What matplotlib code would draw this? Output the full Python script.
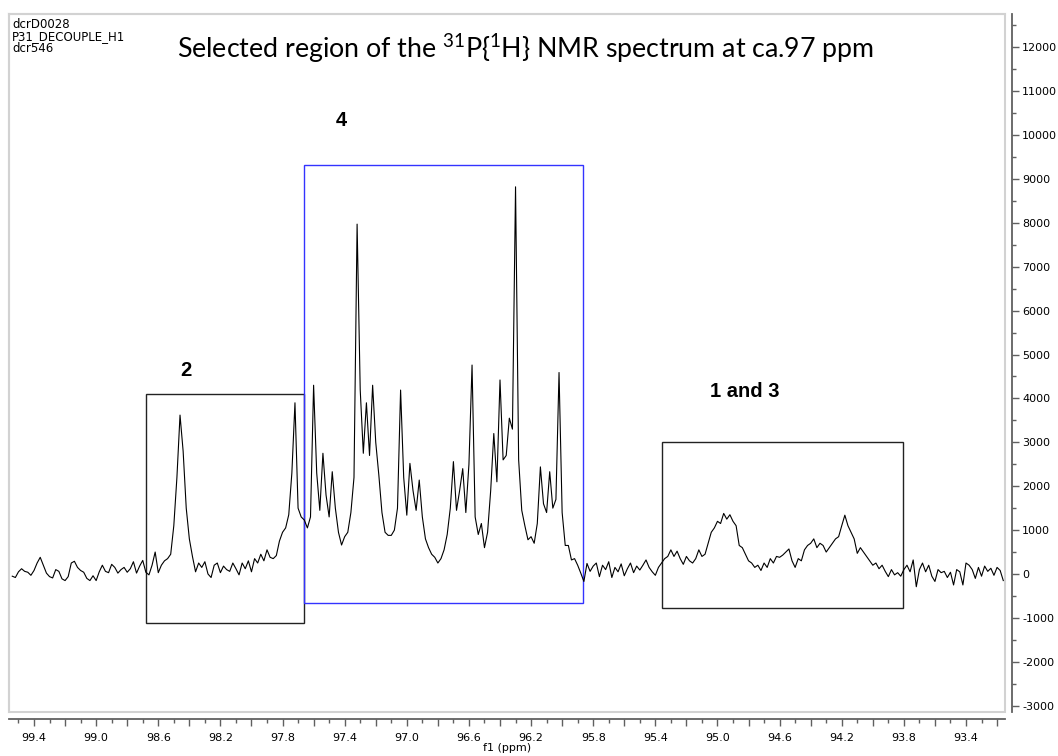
import matplotlib
matplotlib.use('Agg')
import matplotlib.pyplot as plt
from matplotlib.patches import Rectangle
from matplotlib.ticker import MultipleLocator, FuncFormatter
import numpy as np

# 31P{1H} trace on a 0.02 ppm grid (99.54 -> 93.16)
ppm_start, ppm_end = 99.54, 93.16
intensity = [
    -50, -80, 50, 120, 60, 40, -30, 80, 250, 380,
    200, 20, -60, -90, 100, 60, -110, -150, -60, 250,
    290, 150, 80, 40, -100, -150, -40, -150, 50, 200,
    60, 30, 220, 150, 20, 100, 150, 40, 120, 280,
    20, 180, 310, 40, -20, 200, 500, 30, 200, 300,
    350, 450, 1100, 2200, 3620, 2800, 1500, 800, 400, 50,
    250, 150, 280, 0, -80, 200, 250, 30, 180, 100,
    60, 250, 120, -20, 250, 120, 300, 50, 350, 250,
    450, 300, 550, 380, 350, 420, 750, 950, 1050, 1350,
    2300, 3900, 1500, 1300, 1230, 1050, 1300, 4300, 2300, 1450,
    2750, 1800, 1300, 2330, 1500, 950, 660, 850, 950, 1400,
    2200, 7970, 4200, 2750, 3900, 2700, 4300, 3000, 2250, 1400,
    950, 880, 880, 1000, 1500, 4190, 2200, 1340, 2520, 1900,
    1450, 2140, 1300, 800, 600, 450, 380, 250, 350, 550,
    900, 1500, 2560, 1450, 1900, 2400, 1400, 2500, 4760, 1300,
    900, 1150, 600, 950, 1900, 3200, 2100, 4420, 2600, 2700,
    3550, 3300, 8820, 2600, 1450, 1100, 780, 850, 700, 1150,
    2440, 1600, 1400, 2330, 1500, 1700, 4590, 1400, 650, 650,
    320, 350, 200, 20, -170, 240, 60, 180, 250, -60,
    200, 100, 280, -80, 150, 50, 230, -40, 120, 250,
    30, 180, 90, 200, 320, 150, 50, -30, 150, 250,
    350, 400, 550, 400, 520, 350, 220, 400, 300, 250,
    350, 550, 400, 450, 700, 950, 1050, 1200, 1150, 1380,
    1250, 1350, 1200, 1100, 650, 600, 450, 300, 250, 150,
    200, 80, 250, 150, 350, 250, 400, 380, 430, 500,
    570, 300, 150, 350, 300, 550, 650, 700, 800, 600,
    700, 650, 500, 600, 700, 800, 850, 1100, 1340, 1100,
    950, 800, 470, 600, 500, 400, 300, 200, 250, 120,
    200, 60, -60, 100, -20, 30, -50, 100, 200, 50,
    320, -290, 100, 250, 50, 200, -50, -170, 100, 30,
    60, -80, 40, -250, 100, 50, -250, 250, 200, 100,
    -100, 150, -50, 180, 60, 130, -30, 150, 80, -150,
]
ppm = np.linspace(ppm_start, ppm_end, len(intensity))

# boxes round the signal groups and their labels
box_labels = ['2', '4', '1 and 3']
box_ppm_left = [98.681, 97.660, 95.355]
box_ppm_right = [97.662, 95.866, 93.803]
box_top = [4094, 9317, 3014]
box_bottom = [-1109, -667, -781]
box_colors = ['#222222', '#3333ff', '#222222']
label_ppm = [98.421, 97.419, 94.823]
label_y = [4647, 10326, 4146]

header_lines = ['dcrD0028', 'P31_DECOUPLE_H1', 'dcr546']

plt.rcParams['mathtext.fontset'] = 'custom'
plt.rcParams['mathtext.rm'] = 'Lato'
plt.rcParams['mathtext.it'] = 'Lato:italic'
plt.rcParams['mathtext.bf'] = 'Lato:bold'
plt.rcParams['axes.unicode_minus'] = False

W, H = 1058, 756
fig = plt.figure(figsize=(W / 100, H / 100), dpi=100)
ax = fig.add_axes([9 / W, 1 - 711.7 / H, (1005.3 - 9) / W, (711.7 - 14) / H])

ax.plot(ppm, intensity, color='black', lw=0.8)

for lo, hi, bot, top, c in zip(box_ppm_right, box_ppm_left, box_bottom, box_top, box_colors):
    ax.add_patch(Rectangle((lo, bot), hi - lo, top - bot, fill=False,
                           edgecolor=c, lw=1.0))

for txt, x, y in zip(box_labels, label_ppm, label_y):
    ax.text(x, y, txt, ha='center', va='center', fontsize=14.5,
            fontweight='bold', family='Liberation Sans')

ax.set_xlim(99.561, 93.147)
ax.set_ylim(-3137, 12757)

# light frame round the plot area, dark axes offset outside it
frame_grey = '#d2d2d2'
axis_grey = '#606060'
for s in ['left', 'top']:
    ax.spines[s].set_color(frame_grey)
    ax.spines[s].set_linewidth(1.5)
ax.add_patch(Rectangle((0, 0), 1, 1, transform=ax.transAxes, fill=False,
                       edgecolor=frame_grey, lw=1.5, clip_on=False, zorder=0))
for s in ['right', 'bottom']:
    ax.spines[s].set_position(('outward', 5))
    ax.spines[s].set_color(axis_grey)
    ax.spines[s].set_linewidth(1.3)

ax.yaxis.set_ticks_position('right')
ax.yaxis.set_label_position('right')
ax.yaxis.set_major_locator(MultipleLocator(1000))
ax.yaxis.set_minor_locator(MultipleLocator(500))
ax.xaxis.set_major_locator(MultipleLocator(0.2))
ax.xaxis.set_minor_locator(MultipleLocator(0.1))
ax.xaxis.set_major_formatter(FuncFormatter(
    lambda v, p: f'{v:.1f}' if int(round(v * 10)) % 4 == 2 else ''))
ax.tick_params(which='major', length=5, width=1, color=axis_grey,
               labelsize=8)
ax.tick_params(axis='y', which='major', pad=2)
ax.tick_params(axis='x', which='major', pad=5)
ax.tick_params(which='minor', length=3, width=1, color=axis_grey)
ax.set_xlabel('f1 (ppm)', fontsize=8, labelpad=0)

for k, line in enumerate(header_lines):
    fig.text(12 / W, 1 - (27.5 + 12.5 * k) / H, line, fontsize=8.5,
             ha='left', va='baseline')

title = fig.text(525.5 / W, 1 - 58 / H,
                 r'Selected region of the $^{31}$P{$^{1}$H} NMR spectrum at ca.97 ppm',
                 family='Lato', fontsize=17, ha='center', va='baseline')
fig.canvas.draw()
w = title.get_window_extent().width
title.set_fontsize(17 * 697 / w)

fig.savefig('out.png', dpi=100)
